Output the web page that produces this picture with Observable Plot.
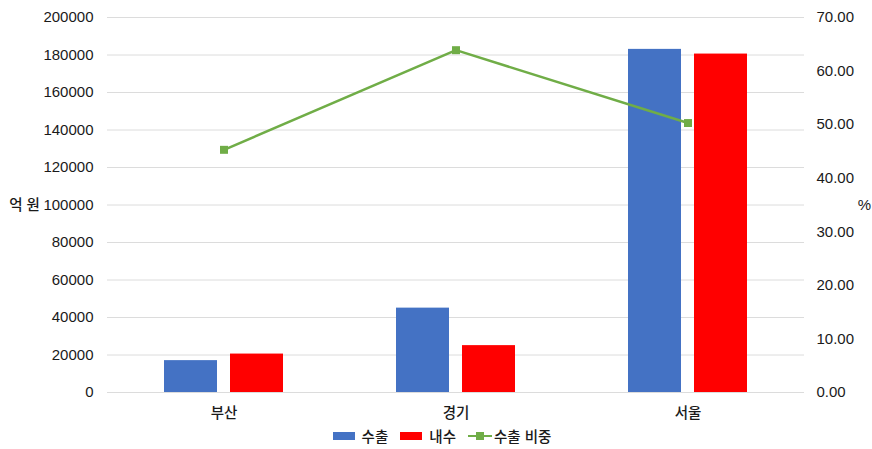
<!DOCTYPE html>
<html>
<head>
<meta charset="utf-8">
<script src="https://cdn.jsdelivr.net/npm/d3@7"></script>
<script src="https://cdn.jsdelivr.net/npm/@observablehq/plot@0.6"></script>
<style>
  body { margin: 0; background: #fff; font-family: "Liberation Sans", "Noto Sans CJK KR", sans-serif; }
  #legend { display: flex; justify-content: center; align-items: center; height: 27px;
            font-size: 14.5px; font-weight: 500; color: #1a1a1a; padding-left: 12px; }
  .item { display: flex; align-items: center; margin: 0 6px; }
  .sw { width: 22px; height: 8px; margin-right: 7px; }
  .ln { position: relative; width: 24px; height: 8px; margin-right: 2px; }
  .ln::before { content: ""; position: absolute; left: 0; right: 0; top: 3px; height: 2.5px; background: #70AD47; }
  .ln::after { content: ""; position: absolute; left: 8px; top: 0; width: 8px; height: 8px; background: #70AD47; }
</style>
</head>
<body>
<div id="chart"></div>
<script>
// Regions and values (억 원), plus export share (%)
const regions = ["부산", "경기", "서울"];
const exportValues = [17000, 45000, 183000];
const domesticValues = [20500, 25000, 180500];
const exportShare = [45.3, 63.9, 50.3];

const seriesNames = ["수출", "내수"];
const seriesColors = ["#4472C4", "#FF0000"];
const shareName = "수출 비중";
const shareColor = "#70AD47";

const leftTicks = [0, 20000, 40000, 60000, 80000, 100000, 120000, 140000, 160000, 180000, 200000];
const rightTicks = [0, 10, 20, 30, 40, 50, 60, 70];
const leftLabel = "억 원";
const rightLabel = "%";

// The percent series shares the left scale: 0–70% maps onto 0–200000
const yMax = 200000, pMax = 70;
const toLeft = p => p * yMax / pMax;

const exportRows = regions.map((r, i) => ({region: r, value: exportValues[i]}));
const domesticRows = regions.map((r, i) => ({region: r, value: domesticValues[i]}));
const shareRows = regions.map((r, i) => ({region: r, share: exportShare[i]}));

const chart = Plot.plot({
  width: 872,
  height: 422,
  marginTop: 17,
  marginBottom: 30,
  marginLeft: 107,
  marginRight: 68,
  style: {fontSize: "15px", fontWeight: 500, fontFamily: '"Liberation Sans", "Noto Sans CJK KR", sans-serif', color: "#1a1a1a", background: "#fff"},
  x: {domain: regions, paddingInner: 0.772, paddingOuter: 0.386},
  y: {domain: [0, yMax]},
  marks: [
    Plot.gridY(leftTicks, {stroke: "#dcdcdc", strokeOpacity: 1}),
    Plot.barY(exportRows, {x: "region", y: "value", fill: seriesColors[0], dx: -33}),
    Plot.barY(domesticRows, {x: "region", y: "value", fill: seriesColors[1], dx: 33}),
    Plot.line(shareRows, {x: "region", y: d => toLeft(d.share), stroke: shareColor, strokeWidth: 2.5}),
    Plot.dot(shareRows, {x: "region", y: d => toLeft(d.share), symbol: "square", fill: shareColor, r: 4.5}),
    Plot.axisX({tickSize: 0, tickPadding: 15, label: null, fontSize: 14.5}),
    Plot.axisY(leftTicks, {tickSize: 0, tickPadding: 14, label: null, fontSize: 15, tickFormat: d => String(d)}),
    Plot.axisY(rightTicks.map(toLeft), {anchor: "right", tickSize: 0, tickPadding: 12, label: null, fontSize: 15,
      tickFormat: v => (v * pMax / yMax).toFixed(2)}),
    Plot.text([leftLabel], {frameAnchor: "left", dx: -83, textAnchor: "middle", text: d => d, fontSize: 14.5, fill: "#1a1a1a"}),
    Plot.text([rightLabel], {frameAnchor: "right", dx: 60, textAnchor: "middle", text: d => d, fontSize: 15, fill: "#1a1a1a"})
  ]
});
document.getElementById("chart").appendChild(chart);

// Legend below the chart
const legend = document.createElement("div");
legend.id = "legend";
seriesNames.forEach((name, i) => {
  const item = document.createElement("div");
  item.className = "item";
  const sw = document.createElement("span");
  sw.className = "sw";
  sw.style.background = seriesColors[i];
  item.appendChild(sw);
  item.appendChild(document.createTextNode(name));
  legend.appendChild(item);
});
const lineItem = document.createElement("div");
lineItem.className = "item";
const ln = document.createElement("span");
ln.className = "ln";
lineItem.appendChild(ln);
lineItem.appendChild(document.createTextNode(shareName));
legend.appendChild(lineItem);
document.getElementById("chart").appendChild(legend);
</script>
</body>
</html>
